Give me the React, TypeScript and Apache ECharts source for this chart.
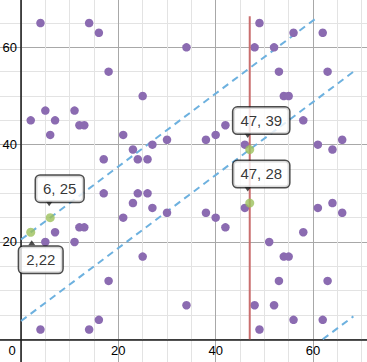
import React, { useEffect, useRef } from "react";
import * as echarts from "echarts";

const purpleX = [2, 4, 5, 6, 7, 11, 12, 13, 14, 16, 17, 18, 21, 23, 24, 25, 26, 27, 30, 34,
  49, 56, 62, 48, 52, 53, 63, 54, 55, 58, 42, 38, 40, 46, 61, 64, 66,
  17, 21, 23, 24, 26, 27, 30, 7, 5, 11, 12, 13, 25, 18, 16, 14, 4, 34,
  46, 38, 40, 42, 51, 54, 55, 58, 61, 64, 66, 53, 63, 48, 52, 56, 62, 49];
const purpleY = [45, 65, 47, 42, 45, 47, 44, 44, 65, 63, 37, 55, 42, 39, 37, 50, 37, 40, 41, 60,
  65, 63, 63, 60, 60, 55, 55, 50, 50, 45, 44, 41, 42, 40, 40, 39, 41,
  30, 25, 28, 30, 30, 27, 26, 22, 20, 20, 23, 23, 17, 12, 4, 2, 2, 7,
  27, 26, 25, 23, 20, 17, 17, 22, 27, 28, 26, 12, 12, 7, 7, 4, 4, 2];

const greenX = [6, 2, 47, 47];
const greenY = [25, 22, 39, 28];
const greenLabels = ["6, 25", "2,22", "47, 39", "47, 28"];

const redLineX = [47, 47];
const redLineY = [0, 66.4];

const dashUpperX = [0, 61];
const dashUpperY = [20.5, 66.25];
const dashLowerX = [0, 68.3];
const dashLowerY = [3.75, 54.98];
const dashBottomX = [62, 68.3];
const dashBottomY = [0, 4.7];

const xTickLabels = [0, 20, 40, 60];
const yTickLabels = [20, 40, 60];

const FONT = "Liberation Sans, Arial, sans-serif";
const MINOR = "#e3e3e3";
const MAJOR = "#a8a8a8";

const zip = (xs: number[], ys: number[]) => xs.map((x, i) => [x, ys[i]]);

export default function App() {
  const ref = useRef<HTMLDivElement>(null);
  useEffect(() => {
    if (!ref.current) return;
    const chart = echarts.init(ref.current, undefined, { renderer: "svg" });
    const labelOffsets: Record<number, { pos: string; off: number[]; arrowOff: number[] }> = {
      0: { pos: "top", off: [9.5, 0], arrowOff: [-1, -14] },
      1: { pos: "bottom", off: [10, 0], arrowOff: [1, 10.5] },
      2: { pos: "top", off: [11.5, 0], arrowOff: [-2, -14] },
      3: { pos: "top", off: [11.5, 0], arrowOff: [-2, -14] },
    };
    const lineStyleDash = { color: "#6db1df", width: 2, type: [7, 5] as any };
    chart.setOption({
      animation: false,
      grid: {
        left: -3.33,
        right: -19,
        top: -1.3,
        bottom: -1.6,
        containLabel: false,
        outerBoundsMode: "none",
      },
      xAxis: {
        type: "value",
        min: -5,
        max: 75,
        interval: 5,
        position: "bottom",
        offset: -24.33,
        axisLine: { show: true, onZero: false, lineStyle: { color: "#1a1a1a", width: 1.5 } },
        axisTick: { show: false },
        axisLabel: {
          margin: 5,
          fontSize: 13,
          fontFamily: FONT,
          color: "#000",
          formatter: (v: number) => {
            if (v === 0) return "{z|0}";
            return xTickLabels.includes(v) ? String(v) : "";
          },
          rich: { z: { padding: [0, 18, 0, 0], fontSize: 13, fontFamily: FONT, color: "#000" } },
        },
        splitLine: {
          show: true,
          showMinLine: true,
          showMaxLine: true,
          lineStyle: { color: [MINOR, MAJOR, MINOR, MINOR], width: 1 },
        },
      },
      yAxis: {
        type: "value",
        min: -5,
        max: 70,
        interval: 5,
        position: "left",
        offset: -24.33,
        axisLine: { show: true, onZero: false, lineStyle: { color: "#1a1a1a", width: 1.5 } },
        axisTick: { show: false },
        axisLabel: {
          margin: 4,
          fontSize: 13,
          fontFamily: FONT,
          color: "#000",
          formatter: (v: number) => (yTickLabels.includes(v) ? String(v) : ""),
        },
        splitLine: {
          show: true,
          showMinLine: true,
          showMaxLine: true,
          lineStyle: { color: [MINOR, MAJOR, MINOR, MINOR], width: 1 },
        },
      },
      series: [
        {
          type: "line",
          data: zip(dashUpperX, dashUpperY),
          symbol: "none",
          lineStyle: lineStyleDash,
          z: 2,
        },
        {
          type: "line",
          data: zip(dashLowerX, dashLowerY),
          symbol: "none",
          lineStyle: lineStyleDash,
          z: 2,
        },
        {
          type: "line",
          data: zip(dashBottomX, dashBottomY),
          symbol: "none",
          lineStyle: lineStyleDash,
          z: 2,
        },
        {
          type: "scatter",
          data: zip(purpleX, purpleY),
          symbolSize: 8.5,
          itemStyle: { color: "#8b6bb1", opacity: 1 },
          z: 3,
        },
        {
          type: "line",
          data: zip(redLineX, redLineY),
          symbol: "none",
          lineStyle: { color: "#c96e6e", width: 2 },
          z: 4,
        },
        {
          type: "scatter",
          data: greenX.map((x, i) => ({
            value: [x, greenY[i]],
            symbol: "triangle",
            symbolRotate: labelOffsets[i].pos === "top" ? 180 : 0,
            symbolOffset: labelOffsets[i].arrowOff,
          })),
          symbolSize: [7, 5],
          itemStyle: { color: "#222" },
          z: 6,
        },
        {
          type: "scatter",
          data: greenX.map((x, i) => ({
            value: [x, greenY[i]],
            label: {
              show: true,
              position: labelOffsets[i].pos,
              distance: labelOffsets[i].pos === "top" ? 11.5 : 10,
              offset: labelOffsets[i].off,
              formatter: greenLabels[i],
            },
          })),
          symbolSize: 9,
          itemStyle: { color: "#9cc05b" },
          label: {
            show: true,
            fontSize: 15,
            fontFamily: FONT,
            color: "#000",
            backgroundColor: "#fff",
            borderColor: "#1f1f1f",
            borderWidth: 1.5,
            borderRadius: 4,
            padding: [5, 7, 6, 7],
          },
          z: 7,
        },
      ],
    });
    return () => chart.dispose();
  }, []);
  return (
    <div
      ref={ref}
      style={{ position: "fixed", left: 0, top: 0, width: 367, height: 362, background: "#fff" }}
    />
  );
}
